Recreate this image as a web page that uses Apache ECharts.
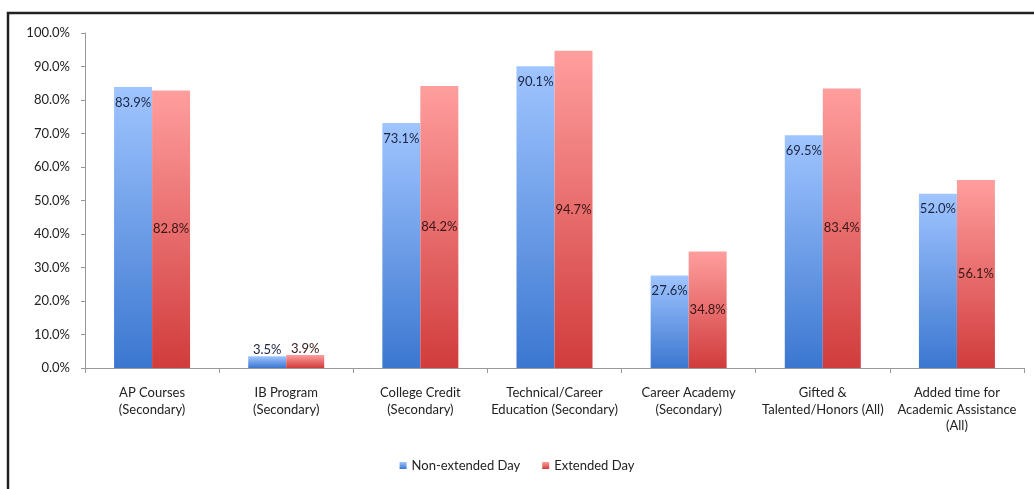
<!DOCTYPE html>
<html>
<head>
<meta charset="utf-8">
<script src="https://cdn.jsdelivr.net/npm/echarts@6/dist/echarts.min.js"></script>
<style>
  html, body { margin: 0; padding: 0; background: #fff; overflow: hidden; }
  #chart { width: 1034px; height: 489px; }
</style>
</head>
<body>
<div id="chart"></div>
<script>
var categories = [
  'AP Courses\n(Secondary)',
  'IB Program\n(Secondary)',
  'College Credit\n(Secondary)',
  'Technical/Career\nEducation (Secondary)',
  'Career Academy\n(Secondary)',
  'Gifted &\nTalented/Honors (All)',
  'Added time for\nAcademic Assistance\n(All)'
]
var nonExtended = [83.9, 3.5, 73.1, 90.1, 27.6, 69.5, 52.0]
var extended = [82.8, 3.9, 84.2, 94.7, 34.8, 83.4, 56.1]
var yTicks = { min: 0, max: 100, interval: 10 }

var font = 'Lato, "Open Sans", sans-serif'

function grad(top, bottom) {
  return new echarts.graphic.LinearGradient(0, 0, 0, 1, [
    { offset: 0, color: top },
    { offset: 1, color: bottom }
  ])
}

// small bars get their label above the bar
function withLabels(values, pos) {
  return values.map(function (v) {
    if (v < 10) {
      return { value: v, label: { position: 'top', distance: 0 } }
    }
    return { value: v, label: { position: pos } }
  })
}

var myChart = echarts.init(document.getElementById('chart'))
var option = {
  animation: false,
  textStyle: { fontFamily: font },
  graphic: [{
    type: 'rect',
    shape: { x: 8, y: 13, width: 1200, height: 700 },
    style: { fill: 'none', stroke: '#222', lineWidth: 2.5 },
    silent: true
  }],
  grid: { left: 85, right: 10, top: 33, bottom: 121 },
  legend: {
    bottom: 12,
    left: 'center',
    icon: 'rect',
    itemWidth: 7,
    itemHeight: 7,
    itemGap: 22,
    textStyle: { fontSize: 13, color: '#222', fontFamily: font }
  },
  xAxis: {
    type: 'category',
    data: categories,
    axisLine: { lineStyle: { color: '#999' } },
    axisTick: { show: true, length: 5, lineStyle: { color: '#999' } },
    axisLabel: {
      interval: 0,
      margin: 17,
      fontSize: 13,
      lineHeight: 16.5,
      color: '#222',
      fontFamily: font
    }
  },
  yAxis: {
    type: 'value',
    min: yTicks.min,
    max: yTicks.max,
    interval: yTicks.interval,
    splitLine: { show: false },
    axisLine: { show: true, lineStyle: { color: '#999' } },
    axisTick: { show: true, length: 4, lineStyle: { color: '#999' } },
    axisLabel: {
      margin: 15,
      fontSize: 13,
      color: '#222',
      fontFamily: font,
      formatter: function (v) { return v.toFixed(1) + '%' }
    }
  },
  series: [
    {
      name: 'Non-extended Day',
      type: 'bar',
      barWidth: 38,
      barGap: '0%',
      data: withLabels(nonExtended, 'insideTop'),
      itemStyle: { color: grad('#a0c5ff', '#3b77d0') },
      label: {
        show: true,
        distance: 9,
        fontSize: 13,
        color: '#1b2440',
        fontFamily: font,
        formatter: function (p) { return p.value.toFixed(1) + '%' }
      }
    },
    {
      name: 'Extended Day',
      type: 'bar',
      barWidth: 38,
      data: withLabels(extended, 'inside'),
      itemStyle: { color: grad('#ff9e9e', '#d13c3c') },
      label: {
        show: true,
        fontSize: 13,
        color: '#3a1616',
        fontFamily: font,
        formatter: function (p) { return p.value.toFixed(1) + '%' }
      }
    }
  ]
}
myChart.setOption(option)
</script>
</body>
</html>
